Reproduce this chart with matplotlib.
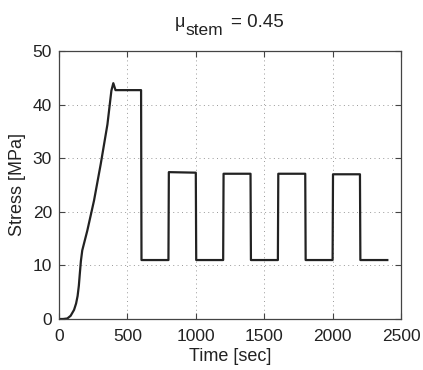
import matplotlib
matplotlib.use("Agg")
import matplotlib.pyplot as plt

plt.rcParams['font.family'] = ['Liberation Sans', 'DejaVu Sans']

# Stress history: loading ramp, hold, then cyclic load steps
time_s = [0, 30, 61, 85, 110, 125, 136, 145, 152, 160, 170, 190, 207, 256, 305, 354,
          383, 397,
          413, 600, 603, 800, 803, 1000, 1003, 1200, 1203, 1400, 1403, 1600, 1603,
          1800, 1803, 2000, 2003, 2200, 2203, 2400]
stress_mpa = [0.0, 0.0, 0.1, 0.6, 1.7, 2.9, 4.3, 6.2, 8.4, 10.8, 12.8, 14.8, 16.5,
              22.1, 28.9, 36.3, 42.6, 44.0,
              42.7, 42.7, 11.0, 11.0, 27.4, 27.3, 11.0, 11.0, 27.1, 27.1, 11.0, 11.0,
              27.1, 27.1, 11.0, 11.0, 27.0, 27.0, 11.0, 11.0]

x_ticks = [0, 500, 1000, 1500, 2000, 2500]
y_ticks = [0, 10, 20, 30, 40, 50]

W, H = 423, 370
fig = plt.figure(figsize=(W / 100, H / 100), dpi=100)
ax = fig.add_axes([59 / W, 1 - 319 / H, 342 / W, 268 / H])

ax.plot(time_s, stress_mpa, color='#222222', lw=1.6)

ax.set_xlim(0, 2500)
ax.set_ylim(0, 50)
ax.set_xticks(x_ticks)
ax.set_yticks(y_ticks)
ax.tick_params(direction='in', top=True, right=True, labelsize=12.5, length=4,
               colors='#444444', labelcolor='#222222')
ax.tick_params(axis='x', pad=7)
ax.tick_params(axis='y', pad=5)
ax.grid(True, linestyle=(0, (1, 3.5)), color='#999999', linewidth=0.7)
for s in ax.spines.values():
    s.set_color('#444444')
    s.set_linewidth(0.9)

ax.set_xlabel('Time [sec]', fontsize=13, color='#222222', labelpad=3)
ax.set_ylabel('Stress [MPa]', fontsize=13, color='#222222', labelpad=5)

# Title built from pieces so the subscript stays near full size
tc = '#222222'
fig.text(175 / W, 1 - 27 / H, '\u03bc', fontsize=13, color=tc, va='baseline')
fig.text(185 / W, 1 - 35 / H, 'stem', fontsize=12.5, color=tc, va='baseline')
fig.text(231 / W, 1 - 27 / H, '= 0.45', fontsize=13.5, color=tc, va='baseline')

fig.savefig('out.png', dpi=100)
